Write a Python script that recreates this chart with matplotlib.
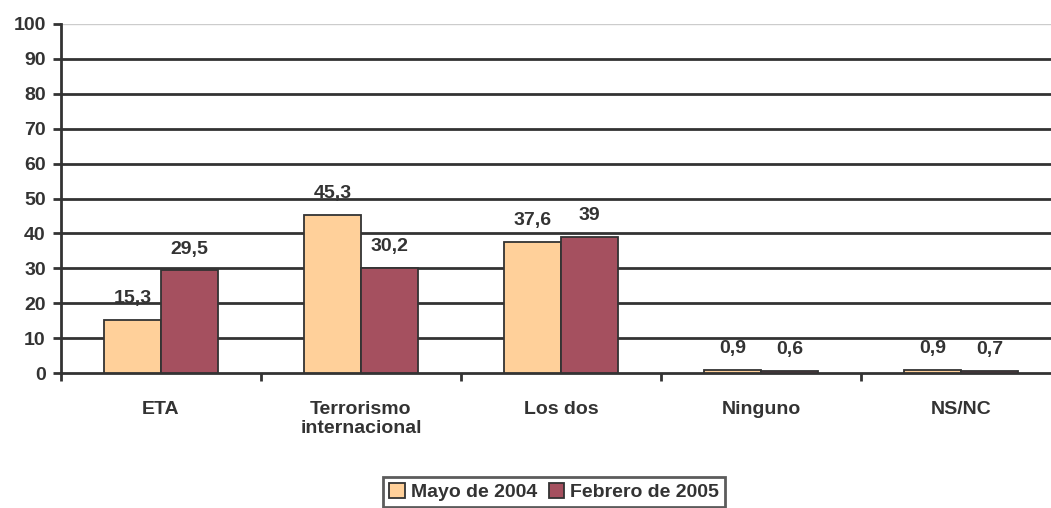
import matplotlib
matplotlib.use("Agg")
import matplotlib.pyplot as plt
import numpy as np

categories = ["ETA", "Terrorismo\ninternacional", "Los dos", "Ninguno", "NS/NC"]
mayo_2004 = [15.3, 45.3, 37.6, 0.9, 0.9]
febrero_2005 = [29.5, 30.2, 39, 0.6, 0.7]
labels_mayo = ["15,3", "45,3", "37,6", "0,9", "0,9"]
labels_feb = ["29,5", "30,2", "39", "0,6", "0,7"]
series_names = ["Mayo de 2004", "Febrero de 2005"]
yticks = list(range(0, 101, 10))

plt.rcParams['font.family'] = 'Liberation Sans'
plt.rcParams['font.weight'] = 'bold'
dark = '#333333'
c1 = '#FFD09A'
c2 = '#A5505F'
fs = 14

fig = plt.figure(figsize=(10.51, 5.08), dpi=100)
ax = fig.add_axes([61/1051, 1-373/508, (1061-61)/1051, (373-24)/508])

x = np.arange(len(categories))
w = 0.285
b1 = ax.bar(x - w/2, mayo_2004, w, color=c1, edgecolor=dark, linewidth=1.3, zorder=3)
b2 = ax.bar(x + w/2, febrero_2005, w, color=c2, edgecolor=dark, linewidth=1.3, zorder=3)

for xi, v, t in zip(x - w/2, mayo_2004, labels_mayo):
    ax.annotate(t, (xi, v), xytext=(0, 9), textcoords='offset points', ha='center', va='bottom',
                fontsize=fs, fontweight='bold', color=dark)
for xi, v, t in zip(x + w/2, febrero_2005, labels_feb):
    ax.annotate(t, (xi, v), xytext=(0, 9), textcoords='offset points', ha='center', va='bottom',
                fontsize=fs, fontweight='bold', color=dark)

ax.set_ylim(0, 100)
ax.set_xlim(-0.5, 4.5)
ax.set_yticks(yticks)
ax.set_yticklabels([str(t) for t in yticks], fontsize=fs, fontweight='bold', color=dark)
for t in yticks[1:-1]:
    ax.axhline(t, color=dark, linewidth=2, zorder=1)
ax.axhline(100, color='#cccccc', linewidth=1, zorder=1)

ax.set_xticks(x)
ax.set_xticklabels(categories, fontsize=fs, fontweight='bold', color=dark)
ax.tick_params(axis='x', length=0, pad=20)
ax.set_xticks(np.arange(len(categories) + 1) - 0.5, minor=True)
ax.tick_params(axis='x', which='minor', length=6, width=2, color=dark, direction='out')
ax.tick_params(axis='y', length=6, width=2, color=dark, direction='out', pad=5)

for s in ['top', 'right']:
    ax.spines[s].set_visible(False)
ax.spines['left'].set_color(dark)
ax.spines['left'].set_linewidth(2)
ax.spines['bottom'].set_color(dark)
ax.spines['bottom'].set_linewidth(2)

leg = fig.legend([b1, b2], series_names, loc='upper center', bbox_to_anchor=(554/1051, 1-477/508),
                 ncol=2, frameon=True, fancybox=False, edgecolor=dark, prop={'size': fs, 'weight': 'bold'},
                 handlelength=0.8, handleheight=0.8, handletextpad=0.3, columnspacing=0.6,
                 borderpad=0.3, borderaxespad=0, labelcolor=dark)
leg.get_frame().set_linewidth(2)

fig.savefig('out.png', dpi=100)
